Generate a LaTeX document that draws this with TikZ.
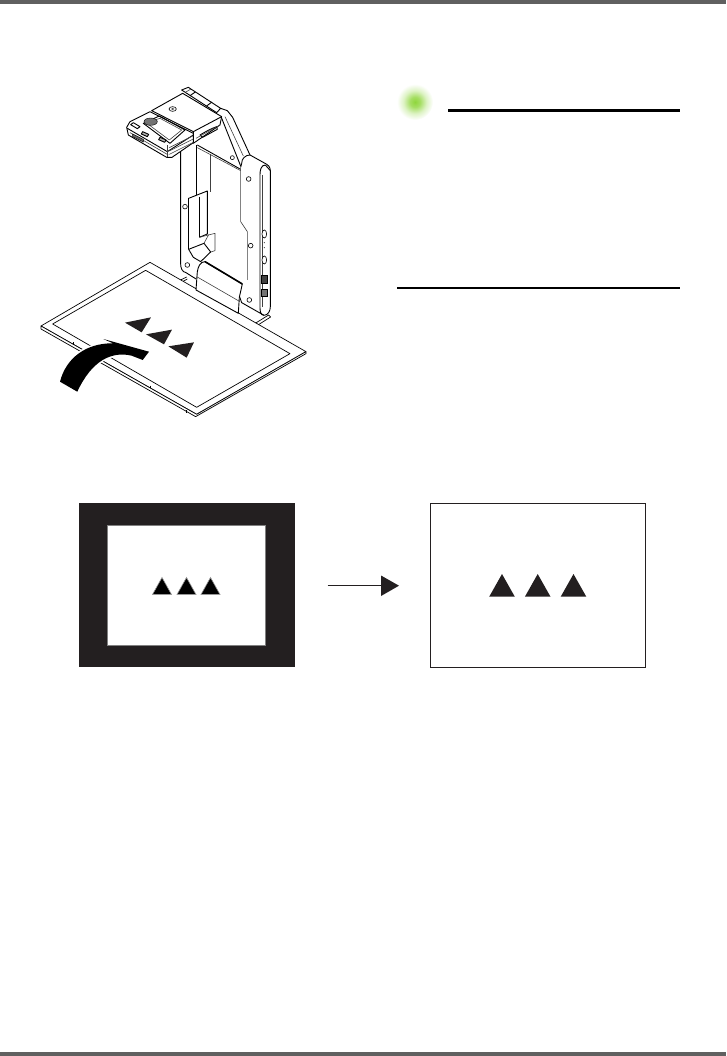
\documentclass[tikz,border=0pt]{standalone}
\usetikzlibrary{arrows.meta}
\definecolor{barGray}{HTML}{606060}
\definecolor{inkBlack}{HTML}{231F20}
\definecolor{glowGreen}{HTML}{8FD63C}
\pgfdeclareradialshading{noteGlow}{\pgfpointorigin}{color(0bp)=(glowGreen); color(7bp)=(glowGreen!80!white); color(16bp)=(glowGreen!30!white); color(25bp)=(white); color(50bp)=(white)}
\tikzset{
    devThick/.style={draw=black, line width=0.9pt, line join=round},
    devThin/.style={draw=black!75, line width=0.6pt, line join=round},
    boardLine/.style={draw=black, line width=0.7pt, line join=round},
    holeRing/.style={draw=black, line width=0.6pt, fill=white},
    markTri/.style={fill=inkBlack, draw=none},
    zoomA/.style={shift={(110,80)}, x=0.3333pt, y=-0.3333pt},
    zoomB/.style={shift={(30,255)}, x=0.3333pt, y=-0.3333pt}
}
\begin{document}
\begin{tikzpicture}[x=1pt, y=-1pt]
    \useasboundingbox (0,0) rectangle (726,1056);
    % page bars
    \path[fill=barGray](0,0)rectangle(726,4);
    \path[fill=barGray](0,1052)rectangle(726,1056);
    % note marker and rules
    \path[shading=noteGlow](415,102)circle(18);
    \path[draw, line width=3pt](448,110.5)to(680,110.5);
    \path[draw, line width=2pt](397,288)to(680,288);
    % board under the camera
    \begin{scope}[zoomB]
        \path[boardLine](425,88)to(470,66);
        \path[boardLine](440,90)to(472,72);
        \path[boardLine](655,218)to(716,180)to(722,186)to(665,222);
        \path[boardLine, fill=white](33,213)to(360,22)to(828,290)to(500,478)to cycle;
        \path[boardLine, fill=white](33,213)to(33,222)to(497,485)to(828,296)to(828,290)to(500,478)to cycle;
        \path[boardLine, fill=white](68,207)to(347,46)to(780,296)to(500,457)to cycle;
        \foreach \tx/\ty in {130/262,360/392,470/466}
        {
            \path[boardLine](\tx,\ty)to(\tx,\ty+8);
        }
        \path[markTri](285,203)to(363,187)to(335,232)to cycle;
        \path[markTri](348,238)to(426,224)to(402,268)to cycle;
        \path[markTri](415,274)to(492,262)to(470,308)to cycle;
    \end{scope}
    % curved arrow
    \path[fill=black, preaction={draw=white, line width=3pt}]
        (60,381.7)..controls(66,358)and(86,343)..(113,343.3)
        to(103.3,339)to(149,351.7)to(142.7,360)to(131.7,355.7)
        ..controls(112,351)and(92,360)..(77.3,391.7)to cycle;
    % camera stand
    \begin{scope}[zoomA]
        % back plate
        \path[devThick](212,215)to(212,552)to[out=-90,in=170](228,578)to(258,597);
        \path[devThick](258,195)to(258,345);
        \path[devThin](302,222)to(302,335);
        \path[devThick](236,355)to(292,333)to(292,462)to(268,472);
        \path[devThick](236,355)to(236,508);
        \path[devThick](268,350)to(268,472);
        \path[devThin](268,472)to(315,460)to(315,512)to(303,516);
        \path[devThick](236,508)to(282,490)to(302,516)to(272,545)to(250,532)to cycle;
        \path[devThin](282,490)to(296,464);
        % arm
        \path[devThick](332,85)to(352,92)to(368,112)to(420,225);
        \path[devThin](345,110)to(400,228);
        \path[devThick](334,112)to(392,258);
        \path[devThick](262,195)to(392,268);
        \path[devThin](262,203)to(392,272);
        \path[holeRing](367,233)circle(6);
        % front panel
        \path[devThick, fill=white](395,250)to[out=90,in=180](420,225)to(465,250)
            to[out=-25,in=90](481,272)to(481,680)to[out=-90,in=0](462,706)
            to(395,668)to[out=120,in=-70](388,648);
        \path[devThick](395,250)to(392,262);
        \path[devThin](392,262)to(392,425)to(412,455)to(412,600);
        \path[devThick](450,285)to[out=90,in=180](466,255);
        \path[devThick](466,255)to(481,272);
        \path[devThick](450,285)to(450,682)to[out=-90,in=180](462,706);
        \path[devThin](458,285)to(458,680);
        \path[holeRing](416,297)circle(7);
        \path[holeRing](225,380)circle(7);
        \path[holeRing](422,497)circle(7);
        \path[holeRing](232,555)circle(7);
        \path[holeRing](418,660)circle(7);
        % side buttons
        \path[holeRing](463,462)ellipse(7 and 12);
        \path[holeRing](463,540)ellipse(7 and 12);
        \foreach \dy in {488,503}
        {
            \path[fill=black!70](463,\dy)circle(2);
        }
        \path[draw=black, fill=black!75](454,587)rectangle(473,610);
        \path[draw=black, fill=black!55](454,627)rectangle(473,650);
        % base block
        \path[devThick, fill=white](258,630)to(262,575)to[out=80,in=180](285,545)to(397,612)
            to(388,652)to(385,700)to cycle;
        \path[draw=black, line width=1.6pt](285,545)to(397,612);
        \path[devThin](260,590)to(390,665);
        % hinge on top
        \path[devThick, fill=white](215,30)to(235,22)to(332,85)to(320,98)to cycle;
        \path[devThin](226,37)to(243,27);
        \path[devThick](240,47)to(256,36);
        \path[devThick](290,78)to(306,66);
        % top plate
        \path[devThick, fill=white](125,92)to(218,40)to(335,110)to(330,135)to(250,190)to(250,155)to cycle;
        \path[devThick](250,155)to(335,110);
        \path[holeRing](188,87)ellipse(11 and 7);
        \path[fill=black!70](188,87)ellipse(5 and 3);
        \path[devThick](270,165)to[out=30,in=200](320,140)to(322,148)to(278,172)to cycle;
        \path[devThin](258,175)to(330,135);
        % camera head
        \path[devThick, fill=white](50,142)to(60,125)to(120,95)to(250,160)to(250,188)
            to(186,232)to(170,232)to(55,165)to cycle;
        \path[devThick](52,145)to(172,215)to(250,165);
        \path[devThick](100,130)to(148,108)to(225,150)to(180,190)to cycle;
        \path[devThin](108,128)to(150,115)to(215,150)to(178,180)to cycle;
        \path[draw=black, fill=black!55](122,125)ellipse(20 and 11);
        \path[devThin](60,158)to(175,225);
        \foreach \ly in {185,195,205}
        {
            \path[devThin](178,\ly+18)to(250,\ly-18);
        }
        \path[devThin](173,195)to(173,232);
        \path[draw=black, fill=black!60](68,162)to(100,178)to(100,186)to(68,170)to cycle;
        \path[devThick, fill=black!30](98,155)to(116,163)to(112,170)to(94,162)to cycle;
        \path[devThick, fill=black!30](150,172)to(168,180)to(164,187)to(146,179)to cycle;
        \path[devThick](70,128)to(90,140)to(82,146)to(62,134)to cycle;
    \end{scope}
    % first frame with black border
    \path[fill=inkBlack](79,503)rectangle(295,667);
    \path[fill=white, draw=black!50, line width=0.4pt](107.5,525.5)rectangle(265.5,645);
    \foreach \tx in {162,186.5,210.5}
    {
        \path[fill=black, draw=black!40, line width=0.6pt](\tx-9.5,594.5)to(\tx,577.5)to(\tx+9.5,594.5)to cycle;
    }
    % arrow between the frames
    \node (leftEnd) [inner sep=0pt] at (327,585.7) {};
    \node (rightEnd) [inner sep=0pt] at (399,585.7) {};
    \path[draw=inkBlack, line width=1.5pt](leftEnd)to(382,585.7);
    \path[markTri](381,575.5)to(rightEnd.center)to(381,596)to cycle;
    % second frame
    \path[draw=inkBlack, line width=0.9pt](430.3,503.5)rectangle(645.3,667.3);
    \foreach \tx in {502,537.7,573.5}
    {
        \path[markTri](\tx-12.8,596.7)to(\tx,574)to(\tx+12.8,596.7)to cycle;
    }
\end{tikzpicture}
\end{document}
